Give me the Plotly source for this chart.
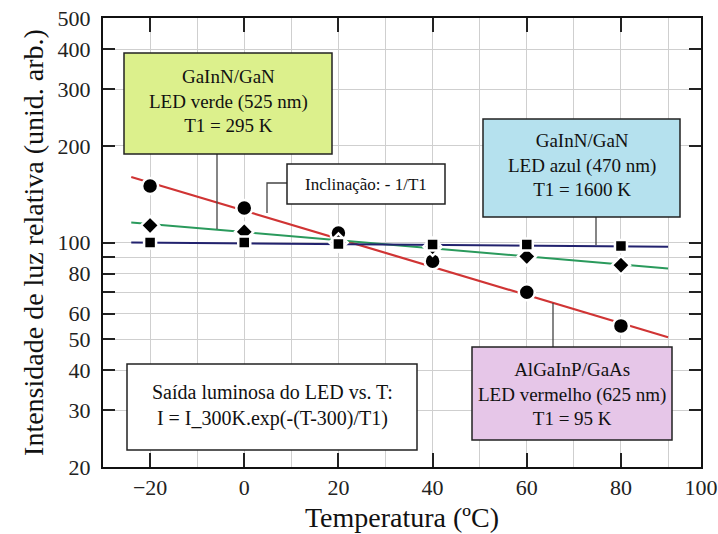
import plotly.graph_objects as go

# ---- data ----
temps = [-20, 0, 20, 40, 60, 80]
red_vals = [150, 128, 107, 87.5, 70, 55]        # AlGaInP/GaAs (circles)
green_vals = [113, 108, 100, 97, 90.5, 85]      # GaInN green (diamonds)
blue_vals = [100, 100, 99, 98.6, 98.5, 97.5]    # GaInN blue (squares)

fit_x = [-24, 90]
red_fit = [160, 50.7]
green_fit = [115.5, 83]
blue_fit = [100, 97]

x_tickvals = [-20, 0, 20, 40, 60, 80, 97]
x_ticktext = ["\u221220", "0", "20", "40", "60", "80", "100"]
y_tickvals = [20, 30, 40, 50, 60, 80, 100, 200, 300, 400, 500]
y_minor = [70, 90]

# ---- geometry helpers (pixel -> paper) ----
L, R, T, B = 103, 701, 18, 467
W, H = R - L, B - T
def px(x):
    return (x - L) / W
def py(y):
    return (B - y) / H

RED = "#d03434"
GREEN = "#2a9a5c"
BLUE = "#22226e"
FONT = "Liberation Serif"

fig = go.Figure()
fig.add_trace(go.Scatter(x=fit_x, y=red_fit, mode="lines", line=dict(color=RED, width=2.2), showlegend=False))
fig.add_trace(go.Scatter(x=fit_x, y=green_fit, mode="lines", line=dict(color=GREEN, width=2), showlegend=False))
fig.add_trace(go.Scatter(x=fit_x, y=blue_fit, mode="lines", line=dict(color=BLUE, width=2), showlegend=False))
fig.add_trace(go.Scatter(x=temps, y=red_vals, mode="markers",
                         marker=dict(symbol="circle", size=16, color="black", line=dict(color="white", width=2.5)),
                         showlegend=False))
fig.add_trace(go.Scatter(x=temps, y=green_vals, mode="markers",
                         marker=dict(symbol="diamond", size=14, color="black", line=dict(color="white", width=2.5)),
                         showlegend=False))
fig.add_trace(go.Scatter(x=temps, y=blue_vals, mode="markers",
                         marker=dict(symbol="square", size=12, color="black", line=dict(color="white", width=2.5)),
                         showlegend=False))

shapes = []
annotations = []

def box(x0, y0, x1, y1, fill, lines, size, cy=None):
    shapes.append(dict(type="rect", xref="paper", yref="paper",
                       x0=px(x0), x1=px(x1), y0=py(y1), y1=py(y0),
                       fillcolor=fill, line=dict(color="#222", width=1.5), layer="above"))
    annotations.append(dict(xref="paper", yref="paper", x=px((x0 + x1) / 2),
                            y=py((y0 + y1) / 2 if cy is None else cy),
                            text="<br>".join(lines), showarrow=False,
                            font=dict(family=FONT, size=size, color="#111"),
                            xanchor="center", yanchor="middle", align="center"))

def seg(pts):
    path = "M " + " L ".join(f"{px(a)},{py(b)}" for a, b in pts)
    shapes.append(dict(type="path", xref="paper", yref="paper", path=path,
                       line=dict(color="#444", width=1.3), layer="above"))

# connectors
seg([(217, 154), (217, 229)])
seg([(287, 183), (267, 183), (267, 213)])
seg([(596, 217), (596, 245)])
seg([(553, 347), (553, 303)])

box(124, 53, 332, 154, "#dcf08c", ["GaInN/GaN", "LED verde (525 nm)", "T1 = 295 K"], 19, cy=101)
box(287, 164, 445, 204, "white", ["Inclinação: - 1/T1"], 17)
box(483, 119, 680, 217, "#b5e1ee", ["GaInN/GaN", "LED azul (470 nm)", "T1 = 1600 K"], 19, cy=165)
box(472, 347, 672, 440, "#e6c6e8", ["AlGaInP/GaAs", "LED vermelho (625 nm)", "T1 = 95 K"], 19, cy=394)
box(127, 364, 417, 450, "white", ["Saída luminosa do LED vs. T:", "I = I_300K.exp(-(T-300)/T1)"], 20, cy=405)

fig.update_layout(
    width=718, height=534,
    margin=dict(l=L, r=718 - R, t=T, b=534 - B, autoexpand=False),
    paper_bgcolor="white", plot_bgcolor="white",
    shapes=shapes, annotations=annotations,
    font=dict(family=FONT, color="#222"),
)
fig.update_xaxes(
    automargin=False,
    range=[-30, 97], tickmode="array", tickvals=x_tickvals, ticktext=x_ticktext,
    ticks="inside", ticklen=14, tickwidth=1.5, tickcolor="#222",
    showline=True, linecolor="#111", linewidth=2, mirror="ticks",
    showgrid=False, zeroline=False,
    minor=dict(tickmode="linear", tick0=-30, dtick=10, showgrid=True, gridcolor="#cfcfcf", gridwidth=1, ticks=""),
    tickfont=dict(family=FONT, size=22, color="#222"),
    title=dict(text="Temperatura (ºC)", font=dict(family=FONT, size=28, color="#111"), standoff=8),
)
fig.update_yaxes(
    automargin=False,
    type="log", range=[1.30103, 2.69897], tickmode="array", tickvals=y_tickvals,
    ticktext=[str(v) for v in y_tickvals],
    ticks="inside", ticklen=12, tickwidth=1.5, tickcolor="#222",
    showline=True, linecolor="#111", linewidth=2, mirror="ticks",
    showgrid=True, gridcolor="#cfcfcf", gridwidth=1, zeroline=False,
    minor=dict(tickmode="array", tickvals=y_minor, showgrid=True, gridcolor="#cfcfcf",
               ticks="inside", ticklen=12, tickwidth=1.5, tickcolor="#222"),
    tickfont=dict(family=FONT, size=22, color="#222"),
    ticklabelstandoff=6,
    title=dict(text="Intensidade de luz relativa (unid. arb.)", font=dict(family=FONT, size=28, color="#111"), standoff=6),
)

fig.write_html("out.html", config={"displayModeBar": False},
               post_script="document.body.style.margin='0px';")
